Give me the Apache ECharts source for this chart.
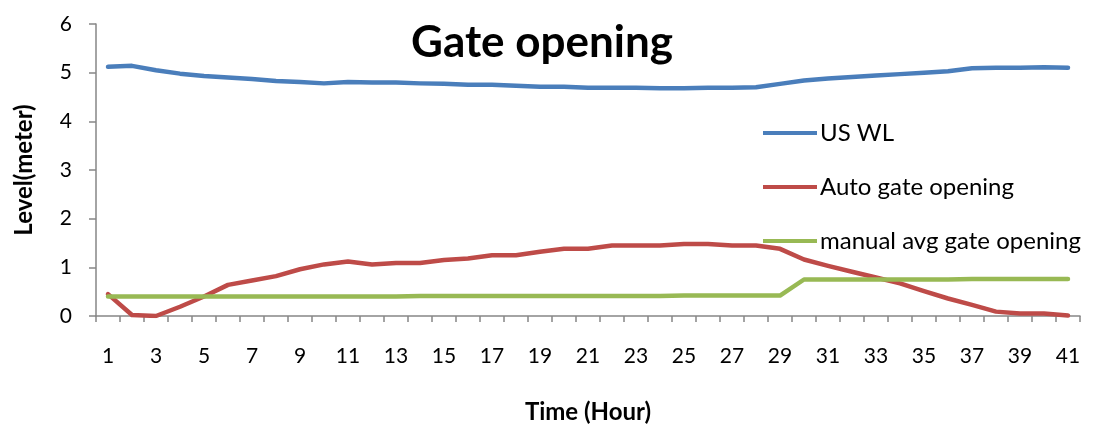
<!DOCTYPE html>
<html>
<head>
<meta charset="utf-8">
<script src="https://cdn.jsdelivr.net/npm/echarts@6/dist/echarts.min.js"></script>
<style>
  html, body { margin: 0; padding: 0; background: #fff; }
  #chart { width: 1094px; height: 425px; }
</style>
</head>
<body>
<div id="chart"></div>
<script>
// Hourly readings, hours 1..41
const hours = Array.from({ length: 41 }, (_, i) => String(i + 1));

const usWL = [
  5.12, 5.14, 5.05, 4.98, 4.93, 4.90, 4.87, 4.83, 4.81, 4.78,
  4.81, 4.80, 4.80, 4.78, 4.77, 4.75, 4.75, 4.73, 4.71, 4.71,
  4.69, 4.69, 4.69, 4.68, 4.68, 4.69, 4.69, 4.70, 4.77, 4.84,
  4.88, 4.91, 4.94, 4.97, 5.00, 5.03, 5.09, 5.10, 5.10, 5.11,
  5.10
];

const autoGate = [
  0.45, 0.02, 0.00, 0.19, 0.40, 0.64, 0.73, 0.82, 0.96, 1.06,
  1.12, 1.06, 1.09, 1.09, 1.15, 1.18, 1.25, 1.25, 1.32, 1.38,
  1.38, 1.45, 1.45, 1.45, 1.48, 1.48, 1.45, 1.45, 1.38, 1.16,
  1.03, 0.91, 0.79, 0.67, 0.51, 0.36, 0.23, 0.09, 0.05, 0.05,
  0.01
];

const manualGate = [
  0.40, 0.40, 0.40, 0.40, 0.40, 0.40, 0.40, 0.40, 0.40, 0.40,
  0.40, 0.40, 0.40, 0.41, 0.41, 0.41, 0.41, 0.41, 0.41, 0.41,
  0.41, 0.41, 0.41, 0.41, 0.42, 0.42, 0.42, 0.42, 0.42, 0.75,
  0.75, 0.75, 0.75, 0.75, 0.75, 0.75, 0.76, 0.76, 0.76, 0.76,
  0.76
];

const yTicks = [0, 1, 2, 3, 4, 5, 6];

const FONT = 'Lato, "Open Sans", sans-serif';
const AXIS_GREY = '#868686';

const chart = echarts.init(document.getElementById('chart'), null, { renderer: 'canvas' });

function lineSeries(name, data, color) {
  return {
    name: name,
    type: 'line',
    data: data,
    symbol: 'none',
    smooth: false,
    lineStyle: { color: color, width: 4.5, cap: 'round', join: 'round' },
    itemStyle: { color: color }
  };
}

chart.setOption({
  animation: false,
  backgroundColor: '#ffffff',
  title: {
    text: 'Gate opening',
    left: 406,
    top: 16,
    textStyle: { fontFamily: FONT, fontSize: 44, fontWeight: 'bold', color: '#000' }
  },
  legend: {
    orient: 'vertical',
    left: 758,
    top: 116,
    itemWidth: 54,
    itemHeight: 24,
    itemGap: 30,
    icon: 'path://M0,10 L54,10 L54,14 L0,14 Z',
    textStyle: { fontFamily: FONT, fontSize: 24, color: '#000', padding: [0, 0, 0, -2] },
    data: ['US WL', 'Auto gate opening', 'manual avg gate opening']
  },
  grid: { left: 96, right: 14, top: 24, bottom: 109, outerBoundsMode: 'none' },
  xAxis: {
    type: 'category',
    data: hours,
    boundaryGap: true,
    name: 'Time (Hour)',
    nameLocation: 'middle',
    nameGap: 84,
    nameTextStyle: { fontFamily: FONT, fontSize: 24, fontWeight: 'bold', color: '#000' },
    axisLine: { lineStyle: { color: AXIS_GREY, width: 1.5 } },
    axisTick: { show: true, length: 6, interval: 0, alignWithLabel: false, lineStyle: { color: AXIS_GREY, width: 1.5 } },
    axisLabel: { interval: 1, margin: 30, fontFamily: FONT, fontSize: 21, color: '#000' },
    splitLine: { show: false }
  },
  yAxis: {
    type: 'value',
    min: yTicks[0],
    max: yTicks[yTicks.length - 1],
    interval: 1,
    name: 'Level(meter)',
    nameLocation: 'middle',
    nameGap: 60,
    nameRotate: 90,
    nameTextStyle: { fontFamily: FONT, fontSize: 24, fontWeight: 'bold', color: '#000' },
    axisLine: { show: true, lineStyle: { color: AXIS_GREY, width: 1.5 } },
    axisTick: { show: true, length: 7, lineStyle: { color: AXIS_GREY, width: 1.5 } },
    axisLabel: { margin: 24, fontFamily: FONT, fontSize: 21, color: '#000' },
    splitLine: { show: false }
  },
  series: [
    lineSeries('US WL', usWL, '#4A7EBB'),
    lineSeries('Auto gate opening', autoGate, '#BE4B48'),
    lineSeries('manual avg gate opening', manualGate, '#98B954')
  ]
});
</script>
</body>
</html>
